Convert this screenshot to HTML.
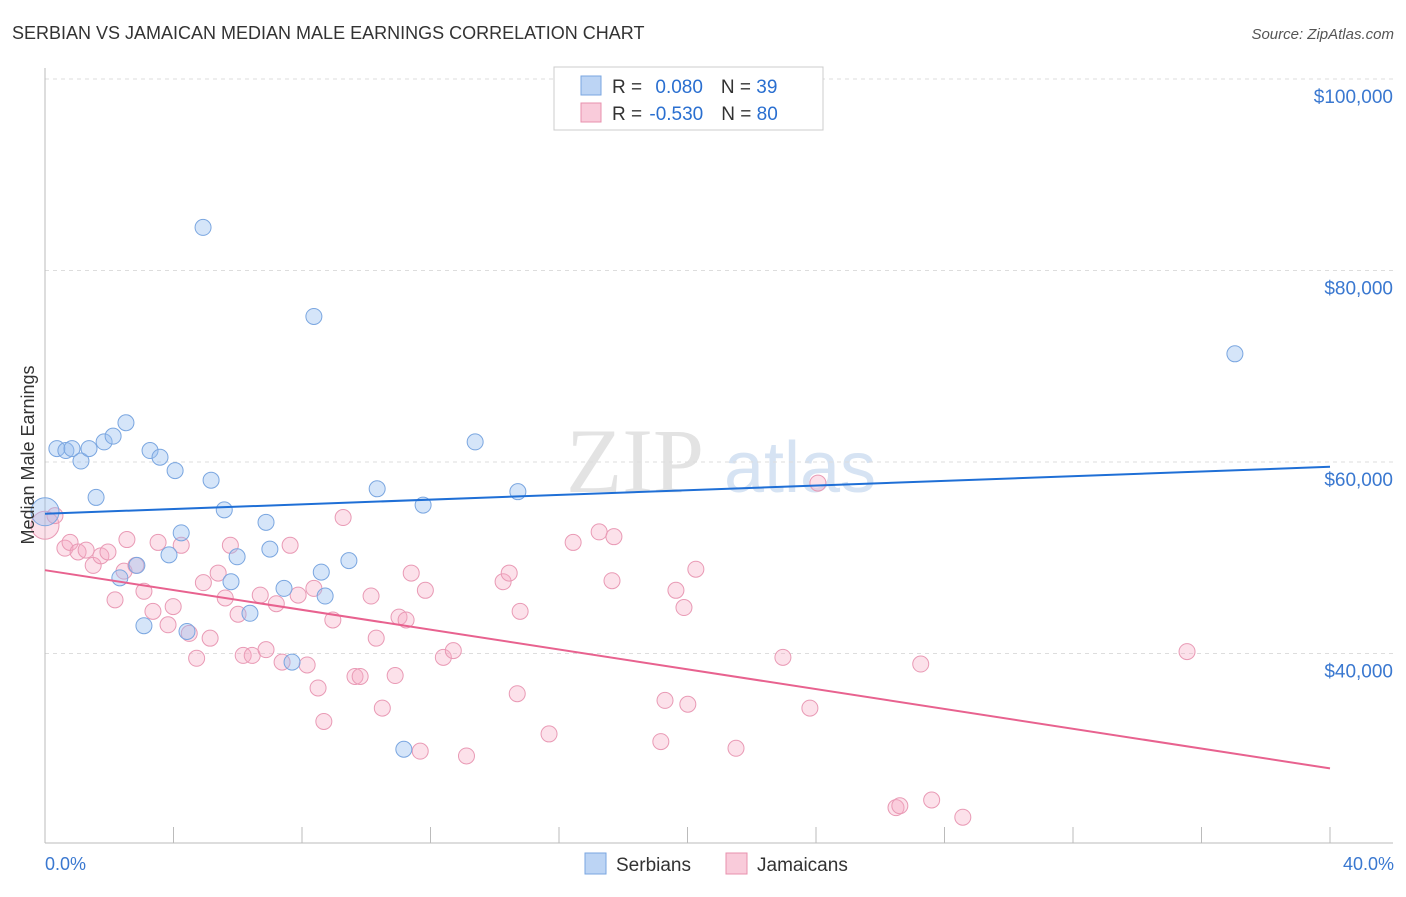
<!DOCTYPE html>
<html><head><meta charset="utf-8"><style>
body{margin:0;background:#fff;font-family:"Liberation Sans",sans-serif;}
</style></head><body>
<svg width="1406" height="892" viewBox="0 0 1406 892" xmlns="http://www.w3.org/2000/svg">
<text x="12" y="39" font-size="18" fill="#333">SERBIAN VS JAMAICAN MEDIAN MALE EARNINGS CORRELATION CHART</text>
<text x="1394" y="39" font-size="15" fill="#555" text-anchor="end" font-style="italic">Source: ZipAtlas.com</text>
<g><text x="635" y="492" font-size="92" fill="#e3e3e3" font-family="Liberation Serif" text-anchor="middle">ZIP</text><text x="800" y="492" font-size="72" fill="#d6e3f3" text-anchor="middle">atlas</text></g>
<g id="grid"></g>
<g id="axes"></g>
<g id="pts"></g>
<g id="lines"></g>
<text transform="translate(34,455) rotate(-90)" font-size="18" fill="#333" text-anchor="middle">Median Male Earnings</text>
<text x="45" y="870" font-size="18" fill="#3a78d0">0.0%</text>
<text x="1394" y="870" font-size="18" fill="#3a78d0" text-anchor="end">40.0%</text>
<g>
<rect x="554" y="67" width="269" height="63" fill="#fff" stroke="#ccc"/>
<rect x="581" y="76" width="20" height="19" fill="#bcd4f4" stroke="#7aa6e0"/>
<rect x="581" y="103" width="20" height="19" fill="#f9cbda" stroke="#e890ae"/>
<text x="612" y="93" font-size="19" fill="#333">R = <tspan fill="#2a6fd0" dx="8">0.080</tspan><tspan dx="18" fill="#333">N = </tspan><tspan fill="#2a6fd0">39</tspan></text>
<text x="612" y="120" font-size="19" fill="#333">R = <tspan fill="#2a6fd0" dx="2">-0.530</tspan><tspan dx="18" fill="#333">N = </tspan><tspan fill="#2a6fd0">80</tspan></text>
</g>
<g>
<rect x="585" y="853" width="21" height="21" fill="#bcd4f4" stroke="#7aa6e0"/>
<text x="616" y="871" font-size="19" fill="#333">Serbians</text>
<rect x="726" y="853" width="21" height="21" fill="#f9cbda" stroke="#e890ae"/>
<text x="757" y="871" font-size="19" fill="#333">Jamaicans</text>
</g>
</svg>
<script>
const yTicks=[40000,60000,80000,100000];
const yTickLabels=["$40,000","$60,000","$80,000","$100,000"];
const serbX=[0,0.37,0.65,0.84,1.12,1.37,1.59,1.84,2.12,2.52,3.27,3.58,4.05,4.92,5.17,5.58,6.88,7.0,5.98,4.24,3.86,2.86,2.33,5.79,6.38,3.08,4.42,7.44,8.6,8.72,8.37,7.69,9.46,10.34,11.77,13.39,14.72,11.17,37.04];
const serbY=[54.8,61.4,61.2,61.4,60.1,61.4,56.3,62.1,62.7,64.1,61.2,60.5,59.1,84.5,58.1,55.0,53.7,50.9,50.1,52.6,50.3,49.2,47.9,47.5,44.2,42.9,42.3,46.8,48.5,46.0,75.2,39.1,49.7,57.2,55.5,62.1,56.9,30.0,71.3];
const jamX=[0,0.31,0.62,0.78,1.03,1.28,1.5,1.74,1.96,2.18,2.46,2.55,2.83,3.08,3.36,3.52,3.83,3.99,4.24,4.49,4.72,4.93,5.14,5.39,5.61,5.77,6.01,6.17,6.45,6.7,6.88,7.2,7.38,7.63,7.88,8.16,8.37,8.5,8.68,8.96,9.28,9.65,9.81,10.15,10.31,10.5,10.9,11.02,11.24,11.4,11.68,11.84,12.4,12.71,13.12,14.26,14.45,14.7,14.79,15.69,16.44,17.25,17.71,17.65,19.17,19.3,19.64,19.89,20.01,20.26,21.51,22.97,23.81,24.06,26.49,26.61,27.26,27.6,28.57,35.55];
const jamY=[53.4,54.4,51.0,51.6,50.6,50.8,49.2,50.2,50.6,45.6,48.6,51.9,49.2,46.5,44.4,51.6,43.0,44.9,51.3,42.1,39.5,47.4,41.6,48.4,45.8,51.3,44.1,39.8,39.8,46.1,40.4,45.2,39.1,51.3,46.1,38.8,46.8,36.4,32.9,43.5,54.2,37.6,37.6,46.0,41.6,34.3,37.7,43.8,43.5,48.4,29.8,46.6,39.6,40.3,29.3,47.5,48.4,35.8,44.4,31.6,51.6,52.7,52.2,47.6,30.8,35.1,46.6,44.8,34.7,48.8,30.1,39.6,34.3,57.8,23.9,24.1,38.9,24.7,22.9,40.2];
const serbLine=[54.6,59.5];
const jamLine=[48.7,28.0];
const xMax=40;
const NS="http://www.w3.org/2000/svg";
function sx(p){return 45+p/40*1285;}
function sy(v){return 79+(100000-v)/20000*191.5;}
function mk(t,a,parent){const e=document.createElementNS(NS,t);for(const k in a)e.setAttribute(k,a[k]);document.getElementById(parent).appendChild(e);return e;}
yTicks.forEach((v,i)=>{
 const l=mk('line',{x1:45,x2:1393,y1:sy(v),y2:sy(v),stroke:'#ddd','stroke-dasharray':'4,4'},'grid');
 
 
 const t=mk('text',{x:1393,y:sy(v)+24,'font-size':19,fill:'#3a78d0','text-anchor':'end'},'grid');
 t.textContent=yTickLabels[i];
 
 
});
mk('line',{x1:45,x2:45,y1:68,y2:843,stroke:'#bbb'},'axes');
mk('line',{x1:45,x2:1393,y1:843,y2:843,stroke:'#bbb'},'axes');
for(let p=0;p<=xMax;p+=4){
 const t=mk('line',{x1:sx(p),x2:sx(p),y1:827,y2:843,stroke:'#bbb'},'axes');
 
 
}
jamX.forEach((x,i)=>{
 const c=mk('circle',{cx:sx(x),cy:sy(jamY[i]*1000),r:i==0?14:8,fill:'rgba(245,170,195,0.35)',stroke:'#e99ab5','stroke-width':1},'pts');
 
 
});
serbX.forEach((x,i)=>{
 const c=mk('circle',{cx:sx(x),cy:sy(serbY[i]*1000),r:i==0?14:8,fill:'rgba(150,190,240,0.4)',stroke:'#7aa6e0','stroke-width':1},'pts');
 
 
});
const l1=mk('line',{x1:sx(0),x2:sx(xMax),y1:sy(serbLine[0]*1000),y2:sy(serbLine[1]*1000),stroke:'#1f6fd6','stroke-width':2},'lines');


const l2=mk('line',{x1:sx(0),x2:sx(xMax),y1:sy(jamLine[0]*1000),y2:sy(jamLine[1]*1000),stroke:'#e8628f','stroke-width':2},'lines');


</script>
</body></html>
